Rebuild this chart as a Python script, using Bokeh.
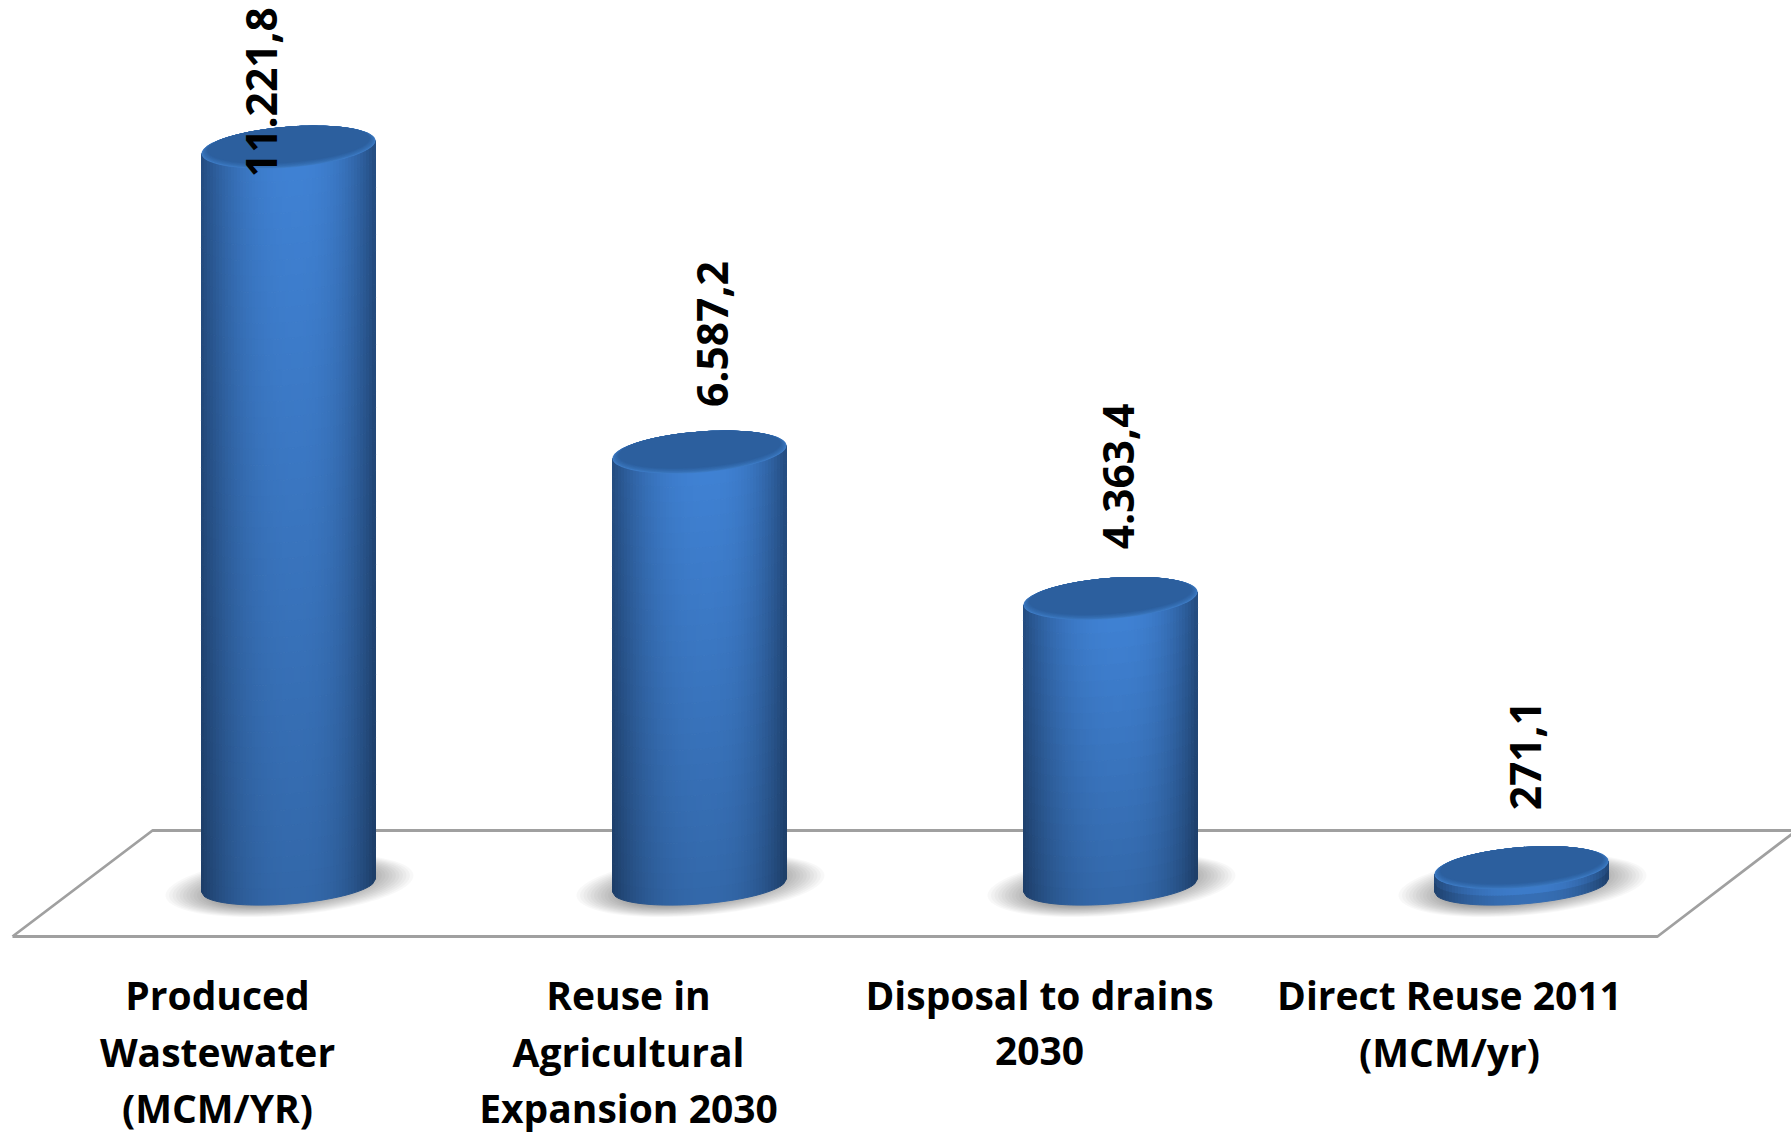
import numpy as np
from bokeh.core.properties import value
from bokeh.embed import file_html
from bokeh.models import Range1d
from bokeh.plotting import figure
from bokeh.resources import INLINE

# Chart values
categories = [
    ["Produced", "Wastewater", "(MCM/YR)"],
    ["Reuse in", "Agricultural", "Expansion 2030"],
    ["Disposal to drains", "2030"],
    ["Direct Reuse 2011", "(MCM/yr)"],
]
values = [11221.8, 6587.2, 4363.4, 271.1]
value_labels = ["11.221,8", "6.587,2", "4.363,4", "271,1"]

# Scale: pixels per category step and per unit of value, and where the base sits
WIDTH, HEIGHT = 1791, 1134
STEP = 411.0
UNIT = 0.0658
X0 = 288.0
BASE = 885.0

FONT = value("Open Sans")


def ox(dx):
    """Horizontal pixel distance expressed in category units."""
    return dx / STEP


def oy(dy):
    """Downward pixel distance expressed in value units."""
    return -dy / UNIT


p = figure(
    width=WIDTH, height=HEIGHT, output_backend="svg", toolbar_location=None,
    x_axis_location=None, y_axis_location=None, min_border=0,
    x_range=Range1d(-X0 / STEP, (WIDTH - X0) / STEP),
    y_range=Range1d(-(HEIGHT - BASE) / UNIT, BASE / UNIT),
)
p.grid.visible = False
p.outline_line_color = None
p.background_fill_color = "white"
p.border_fill_color = "white"

# Floor of the pseudo-3D chart, placed relative to the first bar and the zero level
floor_x = [ox(12 - X0), ox(152 - X0), ox(1796 - X0), ox(1657 - X0), ox(12 - X0)]
floor_y = [oy(936 - BASE), oy(830 - BASE), oy(830 - BASE), oy(936 - BASE), oy(936 - BASE)]
p.line(floor_x, floor_y, line_color="#a0a0a0", line_width=2.8)

A, B, TILT = 87.0, 20.5, -6.5
BASE_B = 18.5
theta = np.linspace(0, 2 * np.pi, 90)


def ellipse(cx, cy, a, b, tilt):
    return cx + ox(a * np.cos(theta)), cy + oy(tilt * np.cos(theta) + b * np.sin(theta))


def shade(u, t):
    """Colour of the cylinder wall at across-position u and down-position t."""
    v = (u - 0.1) / (1.1 if u < 0.1 else 0.9)
    w = 1 - abs(v) ** 2.4
    m = 1 - 0.2 * t
    dark, light = np.array([36, 76, 128]), np.array([64, 130, 212])
    rgb = (dark + (light - dark) * w) * m
    return "#%02x%02x%02x" % tuple(int(c) for c in rgb)


def mix(c1, c2, f):
    rgb = np.array(c1) + (np.array(c2) - np.array(c1)) * f
    return "#%02x%02x%02x" % tuple(int(c) for c in rgb)


for i, val in enumerate(values):
    # Soft contact shadow: stacked translucent ellipses
    for k in range(18):
        f = 1 - 0.48 * k / 17
        sx, sy = ellipse(i + ox(1), oy(0), 124 * f, 30 * f, -10)
        p.patch(sx, sy, fill_color="black", fill_alpha=0.027, line_color=None)

    # Cylinder wall: shaded cells that follow the curved lower rim
    us = np.arange(-A, A + 0.1, 3.0) / A
    rows = max(1, int(np.ceil(val * UNIT / 16)))
    ts = np.linspace(0, 1, rows + 1)
    xs, ys, cols = [], [], []
    for u1, u2 in zip(us[:-1], us[1:]):
        c1 = TILT * u1 + BASE_B * np.sqrt(max(0, 1 - u1 * u1))
        c2 = TILT * u2 + BASE_B * np.sqrt(max(0, 1 - u2 * u2))
        x1, x2 = i + ox(u1 * A), i + ox(u2 * A)
        for t1, t2 in zip(ts[:-1], ts[1:]):
            v1, v2 = val * (1 - t1), val * (1 - t2)
            xs.append([x1, x2, x2, x1])
            ys.append([v1 + oy(c1), v1 + oy(c2), v2 + oy(c2), v2 + oy(c1)])
            cols.append(shade((u1 + u2) / 2, (t1 + t2) / 2))
    p.patches(xs, ys, fill_color=cols, line_color=cols, line_width=1.0)

    # Top face: bevelled rim stepping into the flat darker surface
    steps = 8
    for k in range(steps + 1):
        f = k / steps
        fa, fb = 1 - 0.07 * f, 1 - 0.13 * f
        ex, ey = ellipse(i, val + oy(-(1 - fb) * B), A * fa, B * fb, TILT * fa)
        col = mix((62, 124, 198), (44, 95, 158), f ** 0.7)
        p.patch(ex, ey, fill_color=col, line_color=None)

# Value labels, turned upright and set by hand around each bar
label_dx = [-27, 13, 8, 4]
label_dy = [-55, -118, -122, -112]
lx = [i + ox(d) for i, d in enumerate(label_dx)]
ly = [v + oy(d) for v, d in zip(values, label_dy)]
p.text(lx, ly, text=value_labels, angle=np.pi / 2, text_align="center",
       text_baseline="middle", text_font=FONT, text_font_style="bold",
       text_font_size="42.5px", text_color="black")

# Category captions below the floor
centres = [217, 628, 1039, 1449]
tx, ty, tt = [], [], []
for c, lines in zip(centres, categories):
    for n, line in enumerate(lines):
        tx.append(ox(c - X0))
        ty.append(oy(994 + 56.5 * n - BASE))
        tt.append(line)
p.text(tx, ty, text=tt, text_align="center", text_baseline="alphabetic",
       text_font=FONT, text_font_style="bold", text_font_size="39px",
       text_color="black")

open("out.html", "w").write(file_html(p, INLINE))
